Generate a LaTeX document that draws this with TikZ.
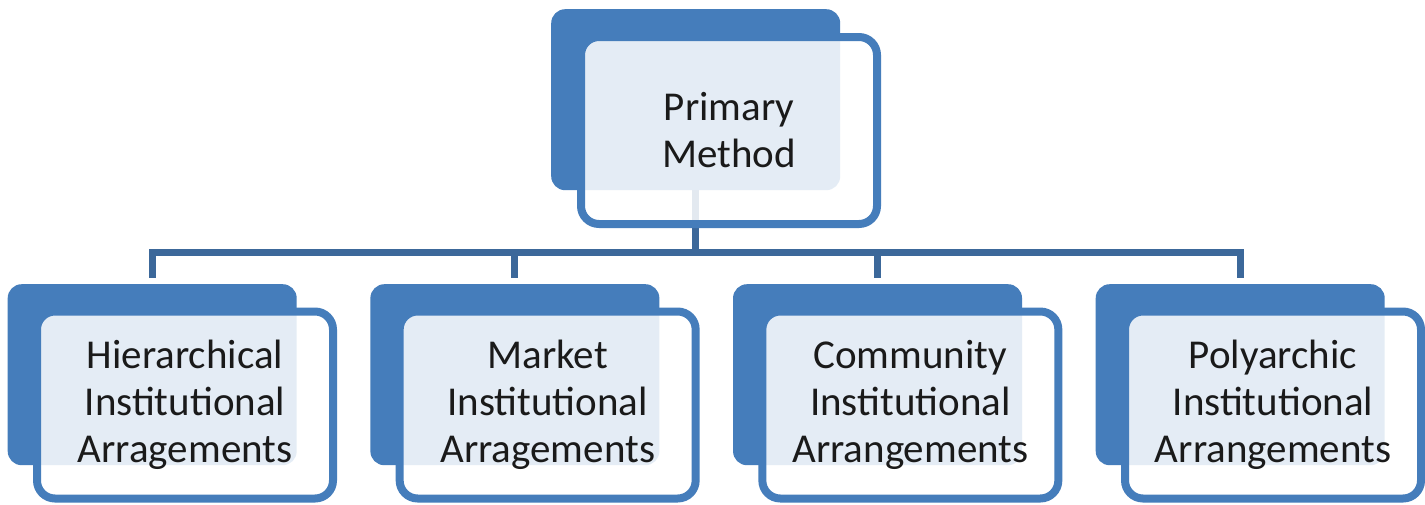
\documentclass[tikz,border=0pt]{standalone}
\usepackage{fontspec}
\setmainfont{Carlito}
\definecolor{boxblue}{HTML}{457DBB}
\definecolor{connblue}{HTML}{3C689A}
\definecolor{txt}{HTML}{1A1A1A}
\begin{document}
\begin{tikzpicture}[x=1pt,y=-1pt,
  backbox/.style={fill=boxblue,draw=none,rounded corners=14pt,minimum width=289pt,minimum height=181pt,inner sep=0pt,anchor=north west},
  frontbox/.style={draw=boxblue,line width=8pt,fill=white,fill opacity=0.86,text opacity=1,rounded corners=18pt,minimum width=296pt,minimum height=187pt,inner sep=0pt,align=center,text=txt,font=\fontsize{41}{47}\selectfont},
  conn/.style={draw=connblue,line width=7pt,line cap=rect}]
\useasboundingbox[fill=white] (0,0) rectangle (1425,504);
\coordinate (bar) at (0,252.5);
% connectors
\node[backbox,draw=none,fill=none] (pbx) at (551,9) {};
\foreach \i/\n in {0/c1b,1/c2b,2/c3b,3/c4b}{
  \node[backbox,fill=none] (\n) at ({7.5+362.67*\i},284) {};
}
\draw[conn] (c1b.north |- bar) -- (c4b.north |- bar);
\draw[conn] ([yshift=-2pt]pbx.south) -- (pbx.south |- bar);
\foreach \n in {c1b,c2b,c3b,c4b}{
  \draw[conn] (\n.north |- bar) -- ([yshift=10pt]\n.north);
}
% boxes
\node[backbox] (pb) at (551,9) {};
\node[frontbox] (pf) at (729,130.5) {Primary\\Method};
\foreach \i/\n/\t in {0/c1/{Hierarchical\\Institutional\\Arragements},1/c2/{Market\\Institutional\\Arragements},2/c3/{Community\\Institutional\\Arrangements},3/c4/{Polyarchic\\Institutional\\Arrangements}}{
  \node[backbox] (\n b2) at ({7.5+362.67*\i},284) {};
  \node[frontbox] (\n f) at ({185+362.67*\i},405) {\t};
}
\end{tikzpicture}
\end{document}
